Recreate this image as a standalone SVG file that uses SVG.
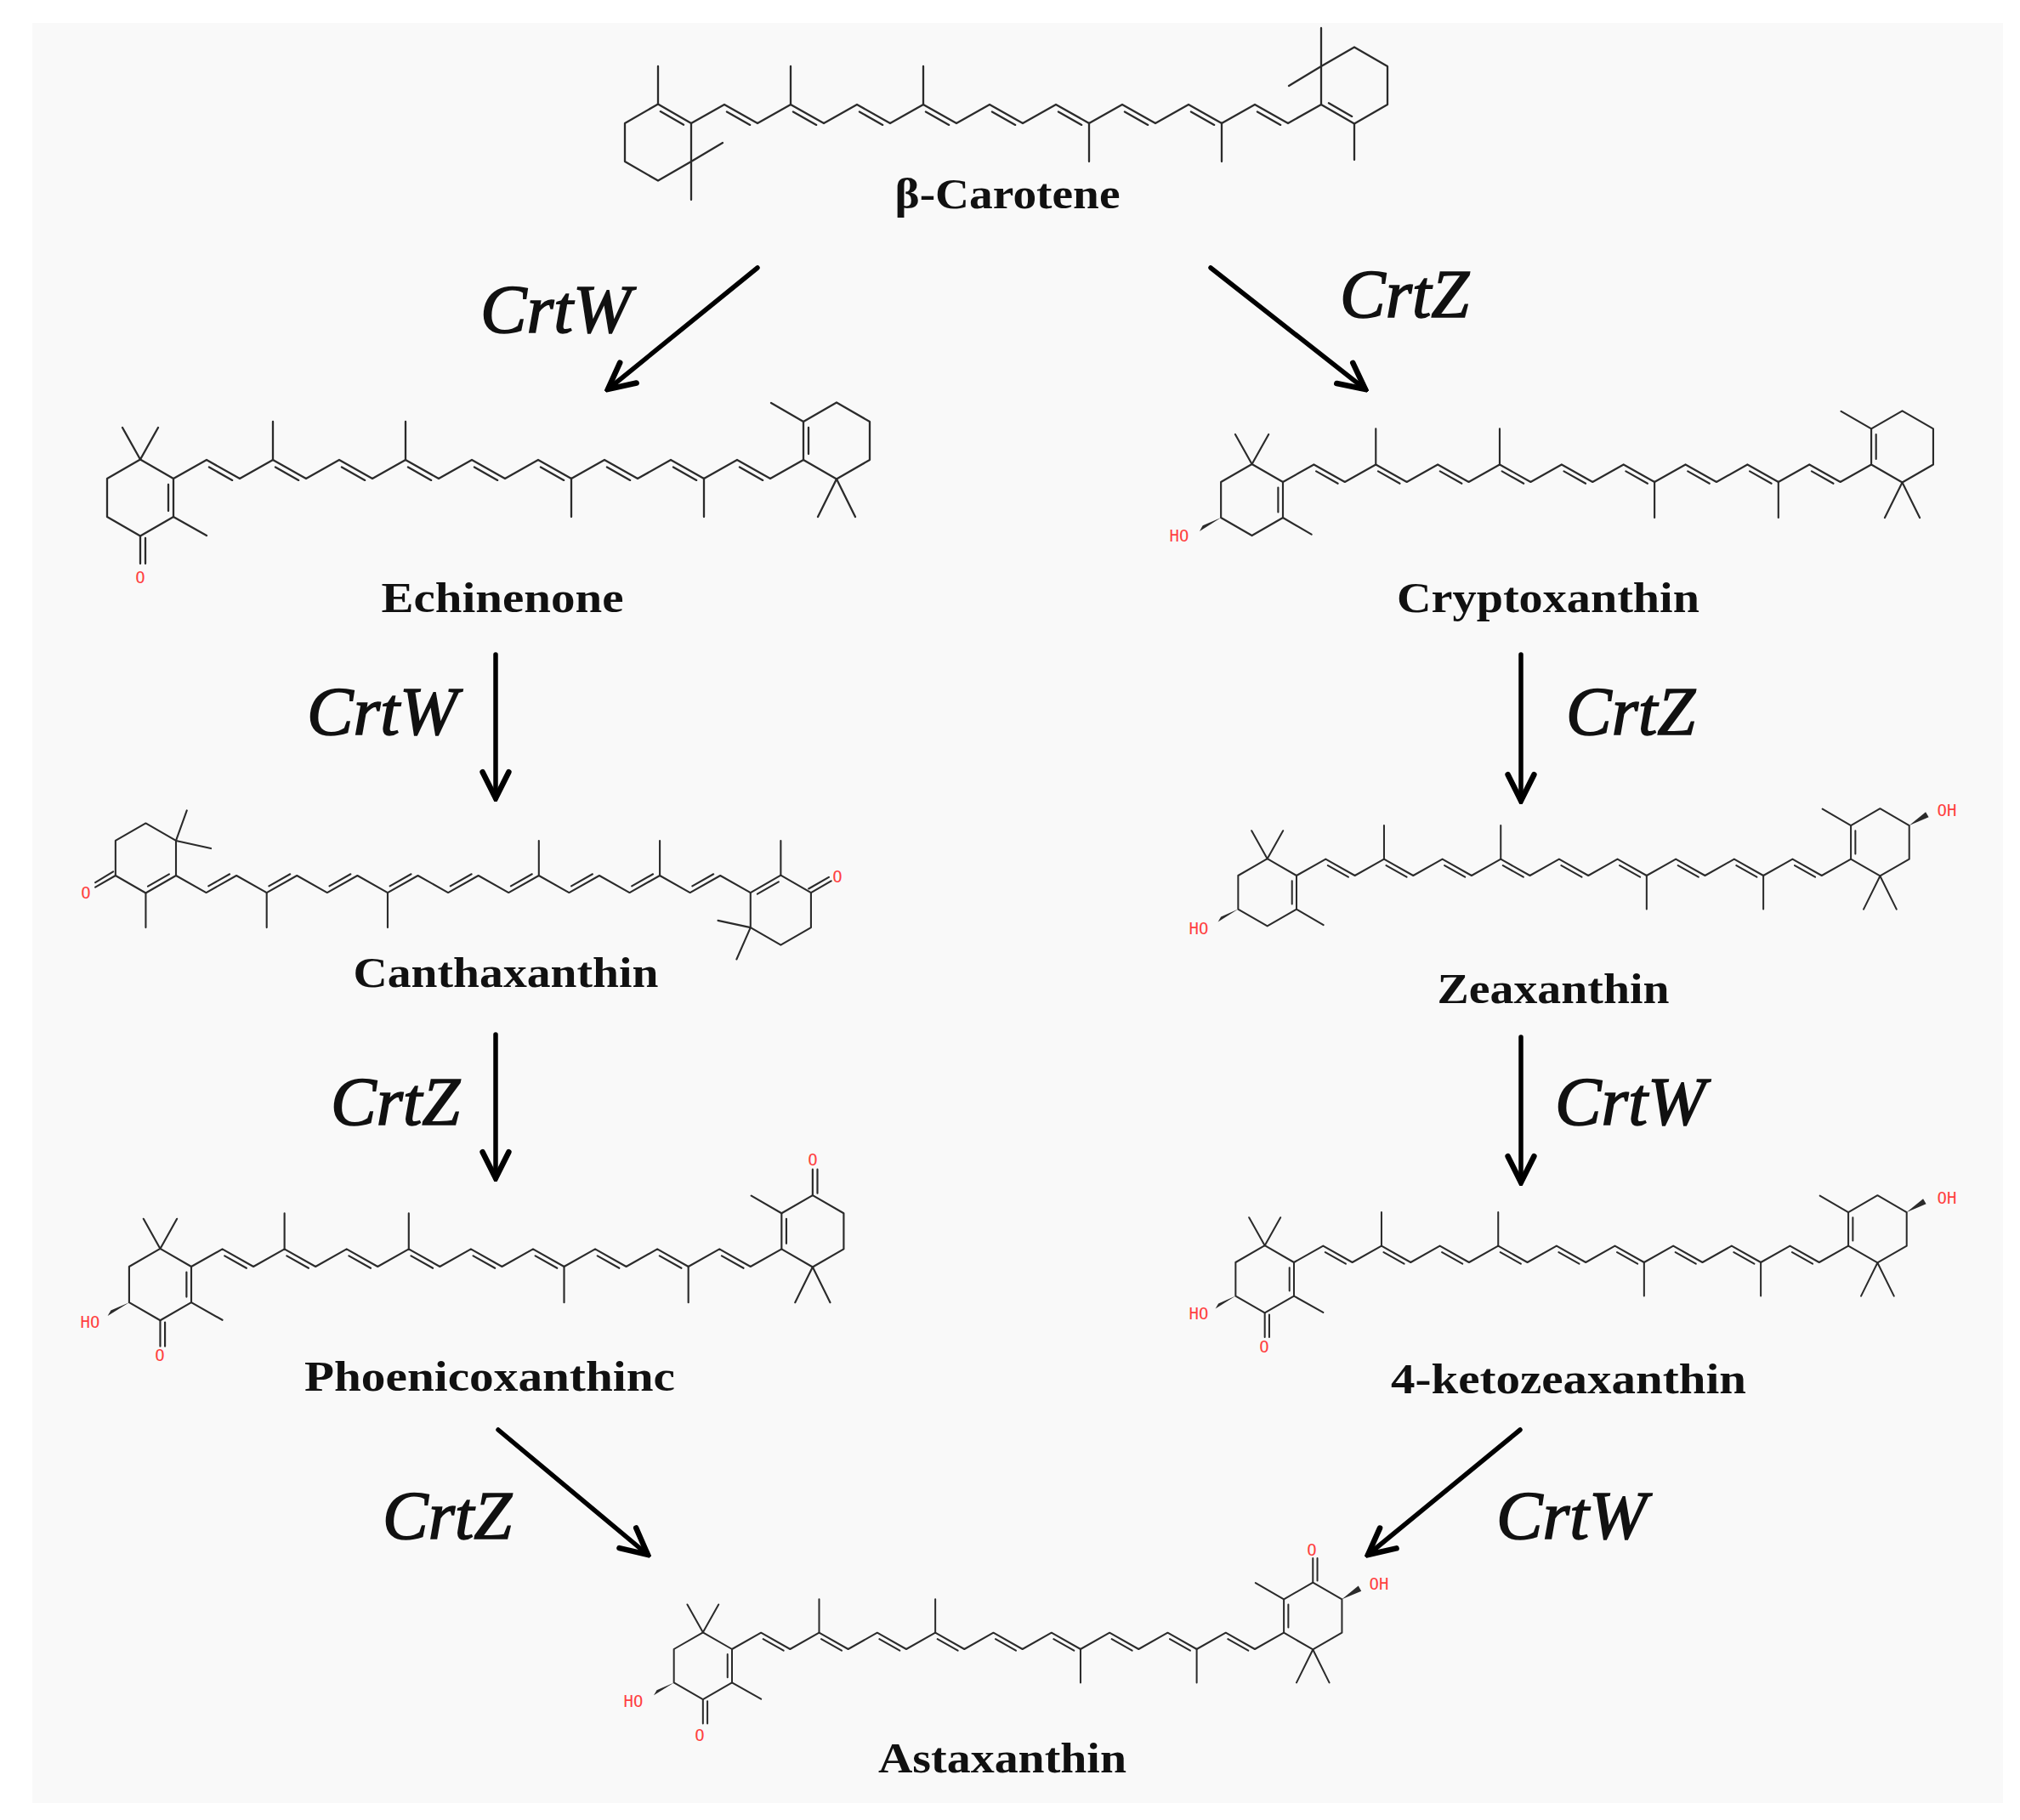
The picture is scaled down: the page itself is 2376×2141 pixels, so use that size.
<svg xmlns="http://www.w3.org/2000/svg" xmlns:xlink="http://www.w3.org/1999/xlink" width="2376" height="2141" viewBox="0 0 2376 2141">
<style>
.b{fill:none;stroke:#2b2b2b;stroke-width:2.3;stroke-linecap:round;stroke-linejoin:round}
.w{fill:#2b2b2b;stroke:none}
.name{font-family:"Liberation Serif",serif;font-weight:bold;font-size:50px;fill:#111;text-anchor:middle}
.enz{font-family:"Liberation Serif",serif;font-style:italic;font-size:80px;fill:#111;stroke:#111;stroke-width:1.6}
.at{font-family:"DejaVu Sans Mono","Liberation Mono",monospace;font-size:19px;fill:#ff4040;text-anchor:middle;dominant-baseline:central}
.arr{fill:none;stroke:#000;stroke-width:5.5;stroke-linecap:round}
</style>
<defs>
<marker id="ah" viewBox="0 0 20 20" refX="18" refY="10" markerWidth="7" markerHeight="7" orient="auto" markerUnits="strokeWidth">
<path d="M2,2 L18,10 L2,18" fill="none" stroke="#000" stroke-width="3.4" stroke-linecap="round" stroke-linejoin="miter"/>
</marker>
<g id="chainA">
<path class="b" d="M0,0 L39,-22 L78,0 L117,-22 L156,0 L195,-22 L234,0 L273,-22 L312,0 L351,-22 L390,0 L429,-22 L468,0 L507,-22 L546,0 L585,-22 L624,0 L663,-22 L702,0 L741,-22"/>
<path class="b" d="M41.9,-13.5L69.2,1.9 M119.9,-13.5L147.2,1.9 M197.9,-13.5L225.2,1.9 M275.9,-13.5L303.2,1.9 M353.9,-13.5L381.2,1.9 M431.9,-13.5L459.2,1.9 M509.9,-13.5L537.2,1.9 M587.9,-13.5L615.2,1.9 M665.9,-13.5L693.2,1.9"/>
<path class="b" d="M117,-22V-67 M273,-22V-67 M468,0V45 M624,0V45"/>
<path class="b" d="M0,0 L-39,-22.5 L-78,0 L-78,45 L-39,67.5 L0,45 Z"/>
<path class="b" d="M741,-22 L780,0.5 L819,-22 L819,-67 L780,-89.5 L741,-67 Z"/>
</g>
<path id="ketoL" class="b" d="M-39,-22.5L-60,-60 M-39,-22.5L-18,-60 M-39,67.5V100 M-33,70V100 M0,45L39,67 M-6,7V38"/>
<path id="hoL" class="w" d="M-78,45 L-101,55 L-105,62 Z"/>
<path id="ohR" class="w" d="M819,-67 L841,-85 L845,-78 Z"/>
<path id="rEch" class="b" d="M741,-67L703,-89 M780,0.5L758,45 M780,0.5L802,45 M747,-29V-60"/>
</defs>
<rect x="0" y="0" width="2376" height="2141" fill="#fff"/>
<rect x="38" y="27" width="2318" height="2094" fill="#f9f9f9"/>

<g id="beta-carotene">
<g transform="translate(813,145)">
<use xlink:href="#chainA"/>
<path class="b" d="M-39,-22.5V-67 M0,45V90 M0,45L37,23 M-8.9,1.8L-36.2,-13.9"/>
<path class="b" d="M780,0.5V43 M741,-67V-112 M741,-67L703,-44 M749.9,-23.8L777.2,-8.1"/>
</g>
<text class="name" x="1185" y="245" textLength="265" lengthAdjust="spacingAndGlyphs">β-Carotene</text>
</g>

<g id="echinenone">
<g transform="translate(204,563)">
<use xlink:href="#chainA"/>
<path class="b" d="M-39,-22.5L-60,-60 M-39,-22.5L-18,-60 M-39,67.5V100 M-33,70V100 M0,45L39,67 M-6,7V38"/>
<use xlink:href="#rEch"/>
</g>
<text class="at" x="165" y="679">O</text>
<text class="name" x="591" y="720" textLength="285" lengthAdjust="spacingAndGlyphs">Echinenone</text>
</g>

<g id="cryptoxanthin">
<g transform="translate(1509,567) scale(0.934)">
<use xlink:href="#chainA"/>
<path class="b" d="M-39,-22.5L-60,-60 M-39,-22.5L-18,-60 M0,45L36,66 M-6,7V38"/>
<use xlink:href="#hoL"/>
<use xlink:href="#rEch"/>
</g>
<text class="at" x="1387" y="630">HO</text>
<text class="name" x="1821" y="720" textLength="356" lengthAdjust="spacingAndGlyphs">Cryptoxanthin</text>
</g>

<g id="canthaxanthin">
<g transform="translate(207,1030) scale(0.912,-0.912)">
<use xlink:href="#chainA"/>
<path class="b" d="M-39,-22.5V-67 M-78,0L-104,-15 M-81,5L-104,-9 M0,45L14,84 M0,45L45,35 M-8.9,1.8L-36.2,-13.9"/>
<path class="b" d="M780,0.5V45 M819,-22L845,-7 M816,-17L842,-2 M741,-67L699,-58 M741,-67L723,-108 M749.9,-23.8L777.2,-8.1"/>
</g>
<text class="at" x="101" y="1050">O</text>
<text class="at" x="985" y="1031">O</text>
<text class="name" x="595" y="1161" textLength="359" lengthAdjust="spacingAndGlyphs">Canthaxanthin</text>
</g>

<g id="zeaxanthin">
<g transform="translate(1525,1030) scale(0.88)">
<use xlink:href="#chainA"/>
<path class="b" d="M-39,-22.5L-60,-60 M-39,-22.5L-18,-60 M0,45L36,66 M-6,7V38"/>
<use xlink:href="#hoL"/>
<use xlink:href="#rEch"/>
<use xlink:href="#ohR"/>
</g>
<text class="at" x="1410" y="1092">HO</text>
<text class="at" x="2290" y="953">OH</text>
<text class="name" x="1827" y="1180" textLength="273" lengthAdjust="spacingAndGlyphs">Zeaxanthin</text>
</g>

<g id="phoenicoxanthin">
<g transform="translate(225,1490) scale(0.937)">
<use xlink:href="#chainA"/>
<use xlink:href="#ketoL"/>
<use xlink:href="#hoL"/>
<path class="b" d="M741,-67L703,-89 M780,0.5L758,45 M780,0.5L802,45 M747,-29V-60 M780,-89.5V-122 M786,-92V-122"/>
</g>
<text class="at" x="106" y="1555">HO</text>
<text class="at" x="188" y="1594">O</text>
<text class="at" x="956" y="1364">O</text>
<text class="name" x="576" y="1636" textLength="436" lengthAdjust="spacingAndGlyphs">Phoenicoxanthinc</text>
</g>

<g id="ketozeaxanthin">
<g transform="translate(1522,1485) scale(0.88)">
<use xlink:href="#chainA"/>
<use xlink:href="#ketoL"/>
<use xlink:href="#hoL"/>
<use xlink:href="#rEch"/>
<use xlink:href="#ohR"/>
</g>
<text class="at" x="1410" y="1545">HO</text>
<text class="at" x="1487" y="1584">O</text>
<text class="at" x="2290" y="1409">OH</text>
<text class="name" x="1845" y="1639" textLength="418" lengthAdjust="spacingAndGlyphs">4-ketozeaxanthin</text>
</g>

<g id="astaxanthin">
<g transform="translate(861,1940) scale(0.876)">
<use xlink:href="#chainA"/>
<use xlink:href="#ketoL"/>
<use xlink:href="#hoL"/>
<path class="b" d="M741,-67L703,-89 M780,0.5L758,45 M780,0.5L802,45 M747,-29V-60 M780,-89.5V-122 M786,-92V-122"/>
<use xlink:href="#ohR"/>
</g>
<text class="at" x="745" y="2001">HO</text>
<text class="at" x="823" y="2041">O</text>
<text class="at" x="1543" y="1823">O</text>
<text class="at" x="1622" y="1863">OH</text>
<text class="name" x="1179" y="2085" textLength="292" lengthAdjust="spacingAndGlyphs">Astaxanthin</text>
</g>

<g id="connectors">
<path class="arr" marker-end="url(#ah)" d="M891,315 L715,458"/>
<path class="arr" marker-end="url(#ah)" d="M1424,315 L1606,458"/>
<path class="arr" marker-end="url(#ah)" d="M583,770 L583,939"/>
<path class="arr" marker-end="url(#ah)" d="M1789,770 L1789,942"/>
<path class="arr" marker-end="url(#ah)" d="M583,1217 L583,1386"/>
<path class="arr" marker-end="url(#ah)" d="M1789,1220 L1789,1391"/>
<path class="arr" marker-end="url(#ah)" d="M586,1682 L762,1829"/>
<path class="arr" marker-end="url(#ah)" d="M1788,1682 L1609,1829"/>
<text class="enz" x="565" y="391" textLength="177" lengthAdjust="spacingAndGlyphs">CrtW</text>
<text class="enz" x="1576" y="373" textLength="152" lengthAdjust="spacingAndGlyphs">CrtZ</text>
<text class="enz" x="361" y="864" textLength="177" lengthAdjust="spacingAndGlyphs">CrtW</text>
<text class="enz" x="1842" y="864" textLength="152" lengthAdjust="spacingAndGlyphs">CrtZ</text>
<text class="enz" x="389" y="1323" textLength="152" lengthAdjust="spacingAndGlyphs">CrtZ</text>
<text class="enz" x="1829" y="1323" textLength="177" lengthAdjust="spacingAndGlyphs">CrtW</text>
<text class="enz" x="450" y="1810" textLength="152" lengthAdjust="spacingAndGlyphs">CrtZ</text>
<text class="enz" x="1760" y="1810" textLength="177" lengthAdjust="spacingAndGlyphs">CrtW</text>
</g>
</svg>
